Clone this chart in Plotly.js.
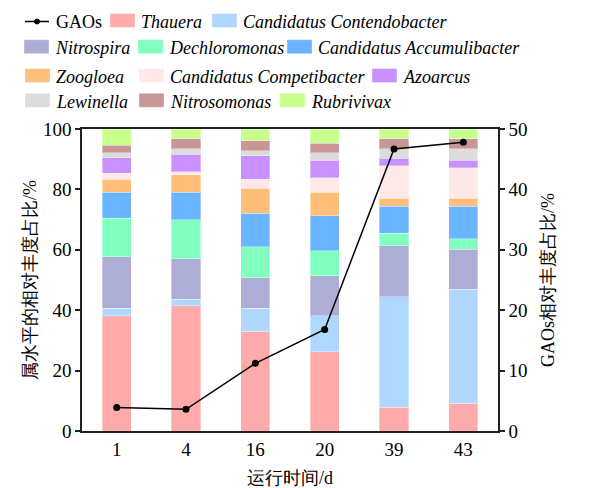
<!DOCTYPE html>
<html>
<head>
<meta charset="utf-8">
<script src="https://cdn.plot.ly/plotly-3.0.1.min.js"></script>
<style>
html,body{margin:0;padding:0;background:#fff;}
#chart{position:relative;z-index:1;width:597px;height:488px;}
#fontwarm{position:absolute;left:2px;top:2px;z-index:0;font-family:'Liberation Serif';font-size:19px;}
</style>
</head>
<body>
<div id="fontwarm" aria-hidden="true">&nbsp;<i>&nbsp;</i></div>
<div id="chart"></div>
<script>
var days = ['1', '4', '16', '20', '39', '43'];
var Thauera = [38.2, 41.4, 33.1, 26.3, 7.8, 9.2];
var Contendobacter = [2.4, 2.3, 7.5, 11.9, 36.7, 37.7];
var Nitrospira = [17.1, 13.3, 10.2, 13.2, 16.9, 13.3];
var Dechloromonas = [12.7, 12.9, 10.2, 8.3, 4.1, 3.4];
var Accumulibacter = [8.6, 9.1, 11.1, 11.6, 9.0, 10.9];
var Zoogloea = [4.4, 5.8, 8.3, 7.7, 2.6, 2.6];
var Competibacter = [1.9, 1.1, 2.9, 4.9, 10.7, 10.1];
var Azoarcus = [5.2, 5.7, 7.8, 5.8, 2.5, 2.5];
var Lewinella = [1.7, 1.8, 1.7, 2.5, 3.1, 3.7];
var Nitrosomonas = [2.5, 3.3, 3.3, 3.1, 3.3, 3.3];
var Rubrivivax = [5.3, 3.3, 3.9, 4.7, 3.3, 3.3];
var GAOs = [3.9, 3.6, 11.2, 16.8, 46.7, 47.8];

var seriesNames = ['Thauera', 'Candidatus Contendobacter', 'Nitrospira', 'Dechloromonas',
  'Candidatus Accumulibacter', 'Zoogloea', 'Candidatus Competibacter', 'Azoarcus',
  'Lewinella', 'Nitrosomonas', 'Rubrivivax'];
var seriesValues = [Thauera, Contendobacter, Nitrospira, Dechloromonas, Accumulibacter,
  Zoogloea, Competibacter, Azoarcus, Lewinella, Nitrosomonas, Rubrivivax];
var seriesColors = ['#FFABAB', '#B0D7FF', '#AEADD6', '#80FFBE', '#6BB4FF', '#FFBE7A',
  '#FFE8E8', '#C891FF', '#DCDCDC', '#C89696', '#C8FF8C'];

var FONT = 'Liberation Serif';

var traces = [];
for (var i = 0; i < seriesNames.length; i++) {
  traces.push({
    type: 'bar', x: days, y: seriesValues[i], name: seriesNames[i],
    marker: {color: seriesColors[i], line: {color: 'rgba(255,255,255,0.35)', width: 1}},
    showlegend: false, hoverinfo: 'x+y+name'
  });
}
traces.push({
  type: 'scatter', mode: 'lines+markers', x: days, y: GAOs, name: 'GAOs', yaxis: 'y2',
  line: {color: '#000', width: 1.5}, marker: {color: '#000', size: 7},
  showlegend: false, cliponaxis: false
});

// Legend (drawn manually to match swatch geometry); pixel layout -> paper coords
var L = 82, R = 498, T = 129, B = 431;
function px(x) { return (x - L) / (R - L); }
function py(y) { return (B - y) / (B - T); }
var legendItems = [
  {name: 'GAOs', line: true, x: 25, y: 20.5},
  {name: 'Thauera', c: 0, x: 110, y: 20.5},
  {name: 'Candidatus Contendobacter', c: 1, x: 212, y: 20.5},
  {name: 'Nitrospira', c: 2, x: 24, y: 46.7},
  {name: 'Dechloromonas', c: 3, x: 138, y: 46.7},
  {name: 'Candidatus Accumulibacter', c: 4, x: 287, y: 46.7},
  {name: 'Zoogloea', c: 5, x: 25, y: 75.5},
  {name: 'Candidatus Competibacter', c: 6, x: 139, y: 75.5},
  {name: 'Azoarcus', c: 7, x: 372, y: 75.5},
  {name: 'Lewinella', c: 8, x: 25, y: 100.3},
  {name: 'Nitrosomonas', c: 9, x: 139, y: 100.3},
  {name: 'Rubrivivax', c: 10, x: 280, y: 100.3}
];
var shapes = [], annotations = [];
legendItems.forEach(function (it) {
  if (it.line) {
    shapes.push({type: 'line', xref: 'paper', yref: 'paper', x0: px(it.x), x1: px(it.x + 24),
      y0: py(it.y + 1), y1: py(it.y + 1), line: {color: '#000', width: 1.5}});
    shapes.push({type: 'circle', xref: 'paper', yref: 'paper', x0: px(it.x + 9.5), x1: px(it.x + 14.5),
      y0: py(it.y + 3.5), y1: py(it.y - 1.5), fillcolor: '#000', line: {color: '#000', width: 1}});
  } else {
    shapes.push({type: 'rect', xref: 'paper', yref: 'paper', x0: px(it.x), x1: px(it.x + 25),
      y0: py(it.y + 7), y1: py(it.y - 7), fillcolor: seriesColors[it.c],
      line: {color: 'rgba(255,255,255,0.35)', width: 1}});
  }
  annotations.push({
    xref: 'paper', yref: 'paper', x: px(it.x + 29), y: py(it.y + 1.5),
    xanchor: 'left', yanchor: 'middle', showarrow: false,
    text: it.line ? it.name : '<i>' + it.name + '</i>',
    font: {family: FONT, size: 18, color: '#000'}
  });
});

var layout = {
  width: 597, height: 488,
  margin: {l: L, r: 597 - R, t: T, b: 488 - B},
  paper_bgcolor: '#fff', plot_bgcolor: '#fff',
  barmode: 'stack', bargap: 0.58,
  showlegend: false,
  xaxis: {
    type: 'category', range: [-0.5, 5.5], showgrid: false, zeroline: false,
    showline: true, linecolor: '#222', linewidth: 1.5, mirror: true, ticks: '',
    tickfont: {family: FONT, size: 19, color: '#000'},
    title: {text: '运行时间/d', font: {family: FONT, size: 18, color: '#000'}}
  },
  yaxis: {
    range: [0, 100], dtick: 20, showgrid: false, zeroline: false,
    showline: true, linecolor: '#222', linewidth: 1.5, ticks: 'outside', ticklen: 5,
    tickcolor: '#222', tickwidth: 1.5,
    tickfont: {family: FONT, size: 19, color: '#000'},
    title: {text: '属水平的相对丰度占比/%', font: {family: FONT, size: 18, color: '#000'}}
  },
  yaxis2: {
    overlaying: 'y', side: 'right', range: [0, 50], dtick: 10, showgrid: false, zeroline: false,
    showline: true, linecolor: '#222', linewidth: 1.5, ticks: 'outside', ticklen: 5,
    tickcolor: '#222', tickwidth: 1.5,
    tickfont: {family: FONT, size: 19, color: '#000'},
    title: {text: 'GAOs相对丰度占比/%', font: {family: FONT, size: 18, color: '#000'}}
  },
  shapes: shapes,
  annotations: annotations
};

Plotly.newPlot('chart', traces, layout, {displayModeBar: false});
</script>
</body>
</html>
